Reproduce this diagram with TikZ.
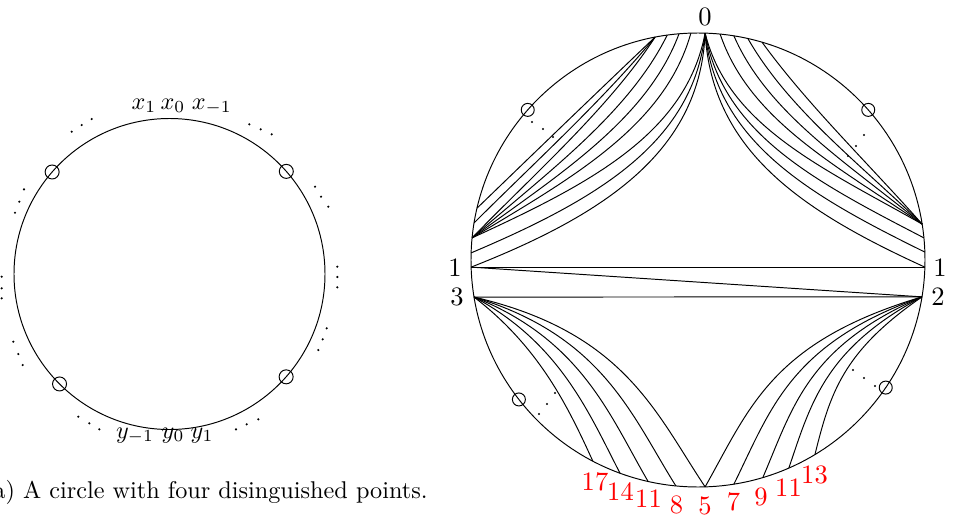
\documentclass[tikz,border=0pt]{standalone}
\usetikzlibrary{calc}
\begin{document}
\begin{tikzpicture}[x=0.4127pt,y=0.4127pt,
  lab/.style={inner sep=0pt,font=\fontsize{10.95}{13}\selectfont},
  redlab/.style={inner sep=0pt,text=red,font=\fontsize{10.95}{13}\selectfont},
  mlab/.style={inner sep=0pt,anchor=base}]
\useasboundingbox (0,0) rectangle (953,-516);

% ---------------- left picture ----------------
\coordinate (A) at (169.5,-274);
\draw (A) circle (155.5);
\foreach \a in {139,41.3,225,-41.4} \draw (A) ++(\a:155.5) circle (7);
\foreach \x/\y in {71.7/131.7,81.7/125,91.7/119,
  249.3/124.3,260.7/129.3,271.7/134.3,
  315/186.7,321/196.7,328.3/206.7,
  337.3/266.7,337.3/277,337.3/287.3,
  326.7/328.3,322.7/339.3,318.3/350,
  236/429.3,246.7/424.3,258.3/419.3,
  78.3/416.7,89.3/423.3,99.3/429.3,
  13.3/341.7,18.3/354,22.7/365,
  1.7/276.7,1.7/288.3,1.7/298.3,
  24/189.3,19.3/201.7,15/212.7}
  \fill (\x,-\y) circle (1.2);
\node[mlab] (x1) at (144,-109) {$x_1$};
\node[mlab] (x0) at (173,-109) {$x_0$};
\node[mlab] (xm) at (211.7,-109) {$x_{-1}$};
\node[mlab] (ym) at (135,-438) {$y_{-1}$};
\node[mlab] (y0) at (173,-438) {$y_0$};
\node[mlab] (y1) at (202,-438) {$y_1$};
\node[inner sep=0pt,anchor=base east] (cap) at (428,-498) {(a) A circle with four disinguished points.};

% ---------------- right picture ----------------
\coordinate (C) at (698,-260);
\draw (C) circle (227);
\foreach \a in {138.6,41.4,217.9,-34.2} \draw (C) ++(\a:227) circle (6.5);
\foreach \x/\y in {532/122,543/129,553/137,864/135,856/146,848/156,
  539/414,547/404,555/393,875/386,864/378,853/370}
  \fill (\x,-\y) circle (1.2);

\path (C) ++(88.2:227) coordinate (p0)
      (C) ++(91.8:227) coordinate (tl3)
      (C) ++(94.8:227) coordinate (tl2)
      (C) ++(97.8:227) coordinate (tl1)
      (C) ++(100.9:227) coordinate (tl0)
      (C) ++(84.4:227) coordinate (tr1)
      (C) ++(80.9:227) coordinate (tr2)
      (C) ++(77.3:227) coordinate (tr3)
      (C) ++(73.6:227) coordinate (tr4)
      (C) ++(166.8:227) coordinate (l1)
      (C) ++(170.6:227) coordinate (l2)
      (C) ++(174.4:227) coordinate (l3)
      (C) ++(178.2:227) coordinate (l4)
      (C) ++(181.8:227) coordinate (l5)
      (C) ++(9.1:227) coordinate (r1)
      (C) ++(5.6:227) coordinate (r2)
      (C) ++(2.0:227) coordinate (r3)
      (C) ++(-1.8:227) coordinate (r4)
      (C) ++(189.4:227) coordinate (p3)
      (C) ++(-9.35:227) coordinate (p2)
      (C) ++(-88.2:227) coordinate (b5)
      (C) ++(-95.6:227) coordinate (b8)
      (C) ++(-102.7:227) coordinate (b11)
      (C) ++(-110.1:227) coordinate (b14)
      (C) ++(-117.6:227) coordinate (b17)
      (C) ++(-80.9:227) coordinate (b7)
      (C) ++(-73.4:227) coordinate (b9)
      (C) ++(-66.4:227) coordinate (b11r)
      (C) ++(-59.0:227) coordinate (b13);

% chords
\draw (l5) -- (r4);
\draw (p3) -- (p2);
\draw (l5) -- (p2);

% upper right
\draw (p0) .. controls +(7,-117) and +(-125,57) .. (r4);
\draw (p0) .. controls +(12,-109) and +(-116,57) .. (r3);
\draw (p0) .. controls +(18,-101) and +(-108,56) .. (r2);
\draw (p0) .. controls +(23,-93) and +(-99,56) .. (r1);
\draw (tr1) .. controls +(29,-86) and +(-85,58) .. (r1);
\draw (tr2) .. controls +(34,-78) and +(-73,60) .. (r1);
\draw (tr3) .. controls +(40,-70) and +(-63,61) .. (r1);
\draw (tr4) .. controls +(45,-62) and +(-55,62) .. (r1);

% upper left
\draw (p0) .. controls +(-5,-115) and +(140,55) .. (l5);
\draw (p0) .. controls +(-12,-108) and +(130,55) .. (l4);
\draw (p0) .. controls +(-19,-100) and +(120,55) .. (l3);
\draw (tl3) .. controls +(-26,-93) and +(100,60) .. (l3);
\draw (tl2) .. controls +(-32,-86) and +(85,62) .. (l3);
\draw (tl1) .. controls +(-39,-79) and +(72,63) .. (l3);
\draw (tl0) .. controls +(-46,-71) and +(60,62) .. (l3);
\draw (tl0) .. controls +(-53,-64) and +(58,58) .. (l2);
\draw (tl0) .. controls +(-60,-57) and +(58,56) .. (l1);

% lower left
\draw (p3) .. controls +(150,-35) and +(-50,75) .. (b5);
\draw (p3) .. controls +(129,-39) and +(-44,70) .. (b8);
\draw (p3) .. controls +(108,-43) and +(-38,65) .. (b11);
\draw (p3) .. controls +(86,-46) and +(-31,60) .. (b14);
\draw (p3) .. controls +(65,-50) and +(-25,55) .. (b17);

% lower right
\draw (p2) .. controls +(-150,-45) and +(45,80) .. (b5);
\draw (p2) .. controls +(-132,-47) and +(37,75) .. (b7);
\draw (p2) .. controls +(-115,-50) and +(30,70) .. (b9);
\draw (p2) .. controls +(-97,-52) and +(22,65) .. (b11r);
\draw (p2) .. controls +(-80,-55) and +(15,60) .. (b13);

% labels
\node[lab] (n0) at (705,-16.7) {0};
\node[lab] (n1l) at (455,-268) {1};
\node[lab] (n3) at (457,-297) {3};
\node[lab] (n1r) at (940,-268) {1};
\node[lab] (n2) at (938,-297) {2};

\node[redlab] (q17) at (595,-481.7) {17};
\node[redlab] (q14) at (620.5,-492) {14};
\node[redlab] (q11) at (648.5,-499) {11};
\node[redlab] (q8) at (676.5,-505) {8};
\node[redlab] (q5) at (705,-505.6) {5};
\node[redlab] (q7) at (733.5,-501.7) {7};
\node[redlab] (q9) at (761,-496.7) {9};
\node[redlab] (q11r) at (788.5,-488) {11};
\node[redlab] (q13) at (814.5,-474.5) {13};
\end{tikzpicture}
\end{document}
